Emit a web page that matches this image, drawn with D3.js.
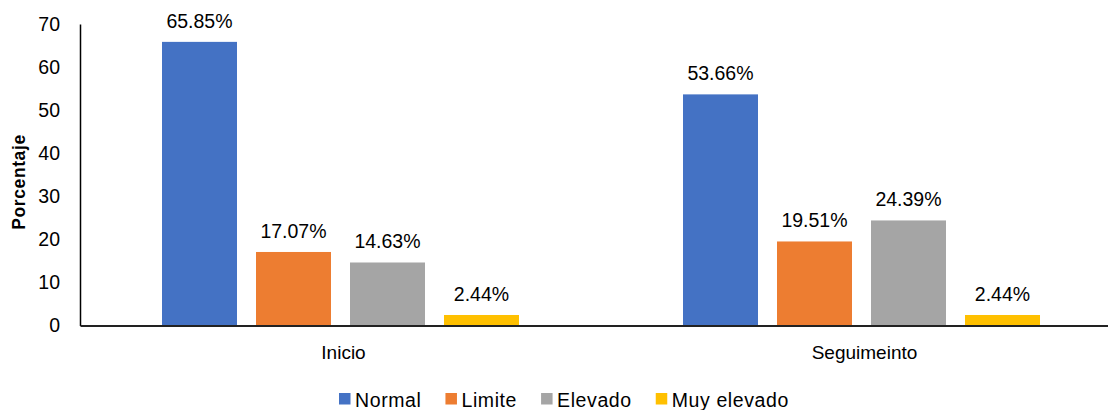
<!DOCTYPE html>
<html>
<head>
<meta charset="utf-8">
<script src="https://cdn.jsdelivr.net/npm/d3@7"></script>
<style>
  html, body { margin: 0; padding: 0; background: #fff; }
  svg { display: block; font-family: "Liberation Sans", Arial, sans-serif; }
</style>
</head>
<body>
<svg id="chart" width="1108" height="410"></svg>
<script>
// Grouped bar chart data
const groups = ["Inicio", "Seguimeinto"];
const seriesNames = ["Normal", "Limite", "Elevado", "Muy elevado"];
const normalValues = [65.85, 53.66];
const limiteValues = [17.07, 19.51];
const elevadoValues = [14.63, 24.39];
const muyElevadoValues = [2.44, 2.44];
const yTicks = [0, 10, 20, 30, 40, 50, 60, 70];
const colors = ["#4472C4", "#ED7D31", "#A5A5A5", "#FFC000"];

const seriesValues = [normalValues, limiteValues, elevadoValues, muyElevadoValues];
const rows = [];
groups.forEach((g, gi) => {
  seriesNames.forEach((s, si) => rows.push({ group: g, series: s, value: seriesValues[si][gi] }));
});

const svg = d3.select("#chart");
const plotLeft = 80, plotRight = 1122, plotTop = 24, plotBottom = 325.5;
const clusterWidth = 357;

const x0 = d3.scaleBand().domain(groups).range([plotLeft, plotRight]).padding(0);
const x1 = d3.scaleBand().domain(seriesNames)
  .range([0, clusterWidth]).paddingInner(19 / 94).paddingOuter(0);
const y = d3.scaleLinear().domain([0, 70]).range([plotBottom, plotTop]);
const color = d3.scaleOrdinal().domain(seriesNames).range(colors);

const groupOffset = (x0.bandwidth() - clusterWidth) / 2;

// Bars
svg.append("g").selectAll("rect").data(rows).join("rect")
  .attr("x", d => x0(d.group) + groupOffset + x1(d.series))
  .attr("y", d => y(d.value))
  .attr("width", x1.bandwidth())
  .attr("height", d => y(0) - y(d.value))
  .attr("fill", d => color(d.series));

// Value labels
svg.append("g").selectAll("text").data(rows).join("text")
  .attr("x", d => x0(d.group) + groupOffset + x1(d.series) + x1.bandwidth() / 2)
  .attr("y", d => y(d.value) - 14)
  .attr("text-anchor", "middle")
  .attr("font-size", "19.5px")
  .attr("fill", "#000")
  .text(d => d.value.toFixed(2) + "%");

// Y axis
const yAxis = svg.append("g").attr("transform", `translate(${plotLeft},0)`)
  .call(d3.axisLeft(y).tickValues(yTicks).tickSize(0).tickPadding(20));
yAxis.select(".domain").attr("stroke", "#000").attr("stroke-width", 1.5);
yAxis.selectAll("text").attr("font-size", "19.5px").attr("fill", "#000")
  .attr("font-family", "Liberation Sans, Arial, sans-serif");

// X baseline and category labels
const xAxis = svg.append("g").attr("transform", `translate(0,${plotBottom})`)
  .call(d3.axisBottom(x0).tickSize(0).tickPadding(20));
xAxis.select(".domain").attr("stroke", "#222").attr("stroke-width", 2);
xAxis.selectAll("text").attr("font-size", "19px").attr("fill", "#000")
  .attr("dx", "3")
  .attr("font-family", "Liberation Sans, Arial, sans-serif");

// Y axis title
svg.append("text")
  .attr("transform", `translate(25,182) rotate(-90)`)
  .attr("text-anchor", "middle")
  .attr("font-size", "17.5px")
  .attr("font-weight", "bold")
  .attr("letter-spacing", "0.6px")
  .attr("fill", "#000")
  .text("Porcentaje");

// Legend
const legend = svg.append("g").attr("transform", "translate(339,0)");
let lx = 0;
seriesNames.forEach((s, i) => {
  const item = legend.append("g").attr("transform", `translate(${lx},0)`);
  item.append("rect").attr("x", 0).attr("y", 393).attr("width", 11.5).attr("height", 11.5)
    .attr("fill", colors[i]);
  const t = item.append("text").attr("x", 16).attr("y", 406.5)
    .attr("font-size", "19.5px").attr("letter-spacing", "0.6px")
    .attr("fill", "#000").text(s);
  lx += 16 + t.node().getComputedTextLength() + 24;
});
</script>
</body>
</html>
